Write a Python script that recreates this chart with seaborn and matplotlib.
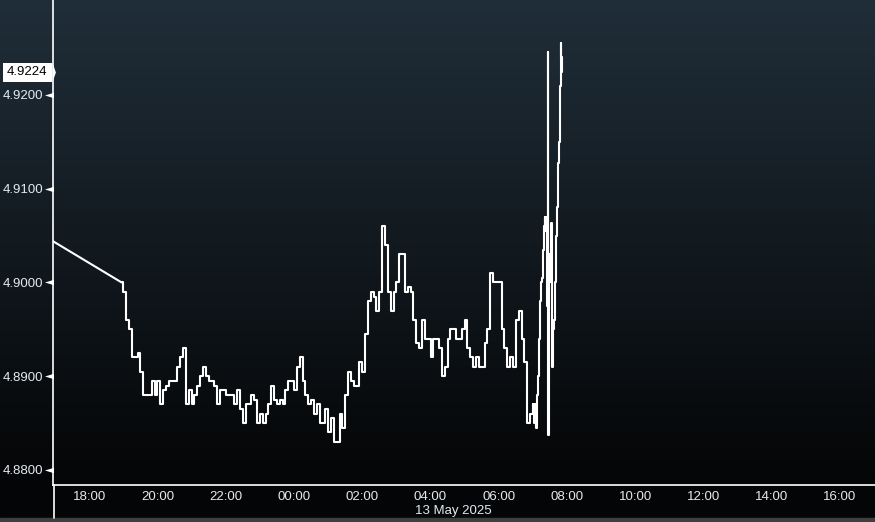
import numpy as np
import pandas as pd
import matplotlib
matplotlib.use("Agg")
import matplotlib.pyplot as plt
import matplotlib.transforms as mtransforms
from matplotlib.patches import Rectangle
from matplotlib.ticker import FixedLocator, MultipleLocator, FuncFormatter
import seaborn as sns

# time axis: hours from 00:00 on 13 May 2025
# opening stretch (straight line from the previous session)
open_hours = [-7.062, -5.05]
open_vals = [4.9044, 4.9000]

# overnight, one value every 5 minutes from 19:00 to 07:00
body_vals = [
    4.8990, 4.8960, 4.8950, 4.8920, 4.8920, 4.8925, 4.8905, 4.8880, 4.8880, 4.8880, 4.8895, 4.8880,  # 19h
    4.8895, 4.8870, 4.8885, 4.8890, 4.8895, 4.8895, 4.8895, 4.8910, 4.8920, 4.8930, 4.8870, 4.8885,  # 20h
    4.8870, 4.8880, 4.8890, 4.8900, 4.8910, 4.8900, 4.8895, 4.8895, 4.8890, 4.8870, 4.8885, 4.8885,  # 21h
    4.8880, 4.8880, 4.8880, 4.8870, 4.8885, 4.8865, 4.8850, 4.8870, 4.8870, 4.8880, 4.8875, 4.8850,  # 22h
    4.8860, 4.8850, 4.8860, 4.8870, 4.8890, 4.8875, 4.8870, 4.8875, 4.8870, 4.8885, 4.8895, 4.8895,  # 23h
    4.8885, 4.8910, 4.8920, 4.8895, 4.8880, 4.8870, 4.8875, 4.8860, 4.8870, 4.8850, 4.8850, 4.8865,  # 00h
    4.8840, 4.8855, 4.8830, 4.8830, 4.8860, 4.8845, 4.8880, 4.8905, 4.8895, 4.8890, 4.8890, 4.8915,  # 01h
    4.8905, 4.8945, 4.8980, 4.8990, 4.8985, 4.8970, 4.8990, 4.9060, 4.9040, 4.8990, 4.8970, 4.8990,  # 02h
    4.9000, 4.9030, 4.9030, 4.8990, 4.8995, 4.8990, 4.8960, 4.8935, 4.8930, 4.8960, 4.8940, 4.8940,  # 03h
    4.8920, 4.8940, 4.8940, 4.8930, 4.8900, 4.8910, 4.8940, 4.8950, 4.8950, 4.8940, 4.8940, 4.8950,  # 04h
    4.8960, 4.8930, 4.8920, 4.8910, 4.8920, 4.8910, 4.8910, 4.8935, 4.8950, 4.9010, 4.9000, 4.9000,  # 05h
    4.9000, 4.8950, 4.8930, 4.8910, 4.8920, 4.8910, 4.8960, 4.8970, 4.8940, 4.8915, 4.8850, 4.8860,  # 06h
    4.8870,
]
body_hours = -5 + np.arange(len(body_vals)) * 5 / 60

# last stretch, one value a minute from 07:01
tail_vals = [
    4.8860, 4.8850, 4.8870, 4.8855, 4.8860, 4.8845, 4.8870, 4.8880, 4.8900, 4.8920,
    4.8940, 4.8960, 4.8980, 4.8990, 4.9000, 4.9005, 4.9020, 4.9035, 4.9040, 4.9060,
    4.9070, 4.9055, 4.9070, 4.9040, 4.8975, 4.9246, 4.8837, 4.8990, 4.9030, 4.9000,
    4.9050, 4.9063, 4.8960, 4.8910, 4.8930, 4.8950, 4.8950, 4.8960, 4.9000, 4.9030,
    4.9050, 4.9060, 4.9080, 4.9100, 4.9127, 4.9150, 4.9180, 4.9210, 4.9255, 4.9240,
    4.9224,
]
tail_hours = 7 + np.arange(1, len(tail_vals) + 1) / 60

y_ticks = [4.88, 4.89, 4.90, 4.91, 4.92]
x_tick_hours = [-6, -4, -2, 0, 2, 4, 6, 8, 10, 12, 14, 16]
x_tick_labels = ["18:00", "20:00", "22:00", "00:00", "02:00", "04:00",
                 "06:00", "08:00", "10:00", "12:00", "14:00", "16:00"]
date_label = "13 May 2025"

step_df = pd.DataFrame({
    "hour": np.concatenate([[open_hours[-1]], body_hours, tail_hours]),
    "price": np.concatenate([[open_vals[-1]], body_vals, tail_vals]),
})
open_df = pd.DataFrame({"hour": open_hours, "price": open_vals})

sns.set_style("dark")
plt.rcParams["font.family"] = ["Liberation Sans", "DejaVu Sans"]

W, H = 875, 522
fig = plt.figure(figsize=(W / 100, H / 100), dpi=100)
fig.patch.set_facecolor("black")

# gradient background
bg = fig.add_axes([0, 0, 1, 1], zorder=0)
bg.axis("off")
rows = np.linspace(0, 1, H)
frac = np.clip(rows / (485 / H), 0, 1)[:, None]
top = np.array([32, 46, 57]) / 255
bot = np.array([4, 5, 6]) / 255
grad = (top * (1 - frac) + bot * frac)[:, None, :]
bg.imshow(grad, aspect="auto", extent=[0, 1, 0, 1])
bg.set_xlim(0, 1)
bg.set_ylim(0, 1)
bg.add_patch(Rectangle((0, 0), 1, 4 / H, color="#3f3f3f"))
bg.plot([53.5 / W, 53.5 / W], [4 / H, 37 / H], color="white", lw=1.2)

ax = fig.add_axes([53 / W, 37 / H, 822 / W, 485 / H], zorder=1)
ax.set_facecolor("none")

sns.lineplot(data=open_df, x="hour", y="price", ax=ax, color="white", lw=1.5,
             sort=False, estimator=None)
sns.lineplot(data=step_df, x="hour", y="price", ax=ax, color="white", lw=1.5,
             sort=False, estimator=None, drawstyle="steps-post")

ax.set_xlim(-7.062, 17.025)
ax.set_ylim(4.8784, 4.93013)
ax.set_xlabel("")
ax.set_ylabel("")
ax.grid(False)

for side in ["top", "right"]:
    ax.spines[side].set_visible(False)
for side in ["left", "bottom"]:
    ax.spines[side].set_visible(True)
    ax.spines[side].set_color("white")
    ax.spines[side].set_linewidth(1.2)

label_col = "#e4eaf0"
ax.xaxis.set_major_locator(FixedLocator(x_tick_hours))
ax.set_xticklabels(x_tick_labels)
ax.xaxis.set_minor_locator(MultipleLocator(1))
ax.tick_params(axis="x", which="both", direction="out", color="white", length=4,
               width=1, labelcolor=label_col, labelsize=9.5, pad=0)

ax.yaxis.set_major_locator(FixedLocator(y_ticks))
ax.yaxis.set_major_formatter(FuncFormatter(lambda v, p: f"{v:.4f}"))
ax.yaxis.set_minor_locator(MultipleLocator(0.005))
ax.tick_params(axis="y", which="major", length=0, pad=7, labelcolor=label_col,
               labelsize=9.5)
ax.tick_params(axis="y", which="minor", direction="out", color="white", length=4,
               width=1)

trans = mtransforms.blended_transform_factory(ax.transAxes, ax.transData)
# little pointers next to the price labels
ax.plot(np.full(len(y_ticks), -0.0045), y_ticks, ls="none", color="white",
        marker=[(-1, 0), (1, 0.6), (1, -0.6)], ms=6.5, mew=0,
        transform=trans, clip_on=False)

# last price tag
last = tail_vals[-1]
ax.text(-0.0065, last, f"{last:.4f}", transform=trans, ha="right", va="center",
        fontsize=9.5, color="black", clip_on=False,
        bbox=dict(boxstyle="square,pad=0.3", fc="white", ec="none"))
ax.plot([-0.0017], [last], transform=trans, ls="none", color="white",
        marker=[(0, 1), (0.35, 0), (0, -1)], ms=14, mew=0, clip_on=False)

ax.text((453 - 53) / 822, -26 / 485, date_label, transform=ax.transAxes,
        ha="center", va="center", fontsize=9.5, color=label_col)

fig.savefig("out.png", dpi=100, facecolor=fig.get_facecolor())
